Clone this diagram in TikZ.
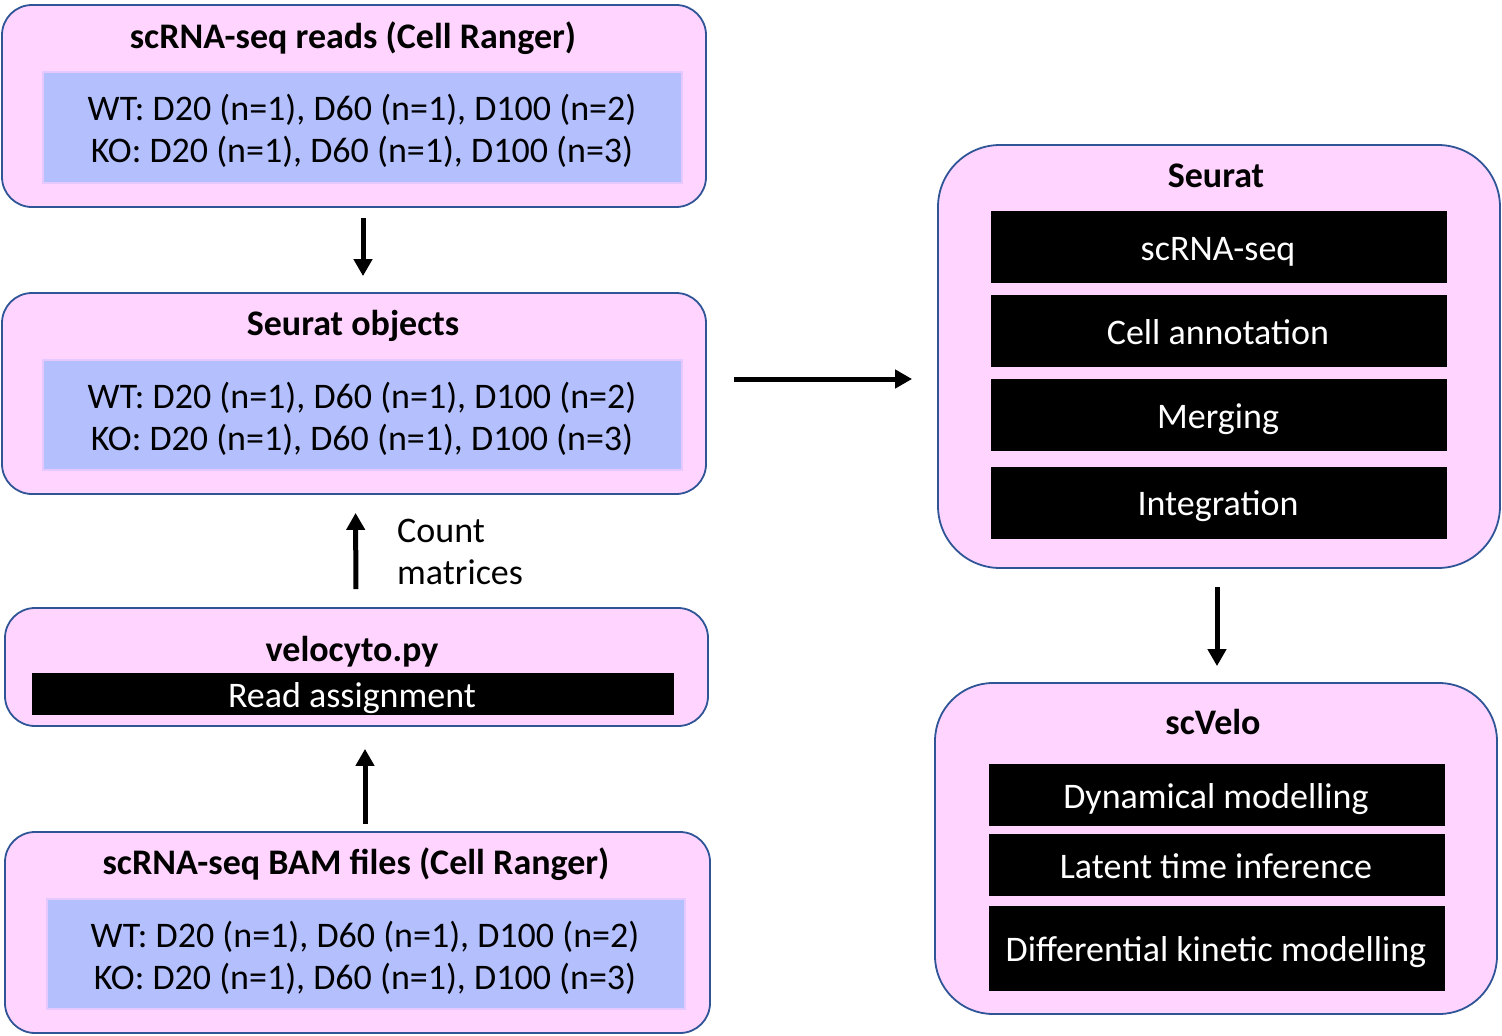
\documentclass[tikz,border=0pt]{standalone}
\usepackage{fontspec}
\setmainfont{Carlito}
\usetikzlibrary{arrows.meta}
\definecolor{pinkfill}{HTML}{FFD4FE}
\definecolor{boxline}{HTML}{2F5597}
\definecolor{bluefill}{HTML}{B4BFFE}
\definecolor{blueline}{HTML}{E4C8FF}
\tikzset{
  outer/.style={draw=boxline, fill=pinkfill, line width=1.8pt, rounded corners=#1, inner sep=0pt},
  outer/.default=30pt,
  innerbox/.style={draw=blueline, fill=bluefill, line width=1.5pt, inner sep=0pt},
  body/.style={font=\fontsize{36}{42}\selectfont, inner sep=0pt, align=center, anchor=base},
  ttl/.style={font=\bfseries\fontsize{36}{42}\selectfont, inner sep=0pt, anchor=base},
  bar/.style={fill=black, inner sep=0pt},
  bartext/.style={text=white, font=\fontsize{36}{42}\selectfont, inner sep=0pt, anchor=base},
  arr/.style={line width=5pt, -{Triangle[width=18pt,length=17pt]}},
}
\begin{document}
\begin{tikzpicture}[x=1pt,y=-1pt]
\useasboundingbox (0,0) rectangle (1502,1036);

% Box 1: scRNA-seq reads
\node[outer, minimum width=704pt, minimum height=202pt] (reads) at (354,106) {};
\node[ttl] (readsT) at (353,48) {scRNA-seq reads (Cell Ranger)};
\node[innerbox, minimum width=639pt, minimum height=111pt] (readsI) at (362.5,127.5) {};
\node[body] (readsL) at (362,162) {WT: D20 (n=1), D60 (n=1), D100 (n=2)\\KO: D20 (n=1), D60 (n=1), D100 (n=3)};

% Box 2: Seurat objects
\node[outer, minimum width=704pt, minimum height=201pt] (sobj) at (354,393.5) {};
\node[ttl] (sobjT) at (353,335) {Seurat objects};
\node[innerbox, minimum width=639pt, minimum height=110pt] (sobjI) at (362.5,415) {};
\node[body] (sobjL) at (362,450) {WT: D20 (n=1), D60 (n=1), D100 (n=2)\\KO: D20 (n=1), D60 (n=1), D100 (n=3)};

% Box 3: velocyto.py
\node[outer, minimum width=703pt, minimum height=118pt] (velo) at (356.5,667) {};
\node[ttl] (veloT) at (352,661) {velocyto.py};
\node[bar, minimum width=642pt, minimum height=42pt] (veloB) at (353,694) {};
\node[bartext] (veloBT) at (352,707) {Read assignment};

% Box 4: BAM files
\node[outer, minimum width=705pt, minimum height=201pt] (bam) at (357.5,932.5) {};
\node[ttl] (bamT) at (356,874) {scRNA-seq BAM files (Cell Ranger)};
\node[innerbox, minimum width=638pt, minimum height=110pt] (bamI) at (366,954) {};
\node[body] (bamL) at (365,989) {WT: D20 (n=1), D60 (n=1), D100 (n=2)\\KO: D20 (n=1), D60 (n=1), D100 (n=3)};

% Seurat
\node[outer=62pt, minimum width=562pt, minimum height=423pt] (seurat) at (1219,356.5) {};
\node[ttl] (seuratT) at (1216,187) {Seurat};
\node[bar, minimum width=456pt, minimum height=72pt] (s1) at (1219,247) {};
\node[bartext] at (1218,260) {scRNA-seq};
\node[bar, minimum width=456pt, minimum height=72pt] (s2) at (1219,331) {};
\node[bartext] at (1218,344) {Cell annotation};
\node[bar, minimum width=456pt, minimum height=72pt] (s3) at (1219,415) {};
\node[bartext] at (1218,428) {Merging};
\node[bar, minimum width=456pt, minimum height=72pt] (s4) at (1219,503) {};
\node[bartext] at (1218,515) {Integration};

% scVelo
\node[outer=58pt, minimum width=562pt, minimum height=331pt] (scv) at (1216,848.5) {};
\node[ttl] (scvT) at (1213,734) {scVelo};
\node[bar, minimum width=456pt, minimum height=62pt] (v1) at (1217,795) {};
\node[bartext] at (1216,808) {Dynamical modelling};
\node[bar, minimum width=456pt, minimum height=62pt] (v2) at (1217,865) {};
\node[bartext] at (1216,878) {Latent time inference};
\node[bar, minimum width=456pt, minimum height=85pt] (v3) at (1217,948.5) {};
\node[bartext] at (1216,961) {Differential kinetic modelling};

% connectors
\draw[arr, shorten <=10pt, shorten >=16pt] ([xshift=9pt]reads.south) -- ([xshift=9pt]sobj.north);
\draw[arr, shorten <=18pt, shorten >=18pt] ([xshift=-0.5pt]velo.north) -- ([xshift=1.5pt]sobj.south);
\draw[arr, shorten <=7pt, shorten >=22pt] ([xshift=7.5pt]bam.north) -- ([xshift=8.5pt]velo.south);
\node[body, anchor=base west, align=left] (cm) at (397,584) {Count\\matrices};
\coordinate (hy) at (0,379);
\draw[arr, shorten <=27pt, shorten >=25pt] (sobj.east |- hy) -- (seurat.west |- hy);
\draw[arr, shorten <=18pt, shorten >=16pt] ([xshift=-2pt]seurat.south) -- ([xshift=-2pt]seurat.south |- scv.north);
\end{tikzpicture}
\end{document}
